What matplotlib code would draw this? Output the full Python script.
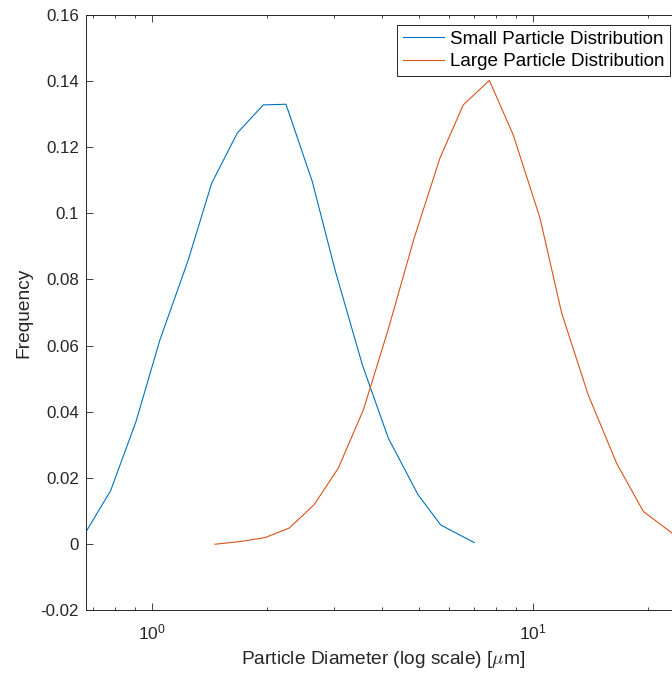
#!/usr/bin/python

import matplotlib
matplotlib.use('Agg')
import matplotlib.pyplot as plt
from matplotlib.ticker import FuncFormatter, LogLocator, FixedLocator

# particle diameters in micrometres and the frequency of each size class
small_diam = [0.671, 0.779, 0.908, 1.049, 1.245, 1.434, 1.674, 1.958, 2.246,
              2.633, 3.02, 3.561, 4.166, 4.99, 5.72, 7.0]
small_freq = [0.0036, 0.0161, 0.0370, 0.0617, 0.0859, 0.1091, 0.1243, 0.1328,
              0.1330, 0.1096, 0.0829, 0.0542, 0.0320, 0.0148, 0.0057, 0.0004]

large_diam = [1.463, 1.701, 1.979, 2.291, 2.66, 3.08, 3.583, 4.16, 4.87, 5.69,
              6.55, 7.67, 8.86, 10.41, 11.87, 13.94, 16.55, 19.44, 23.1]
large_freq = [-0.0001, 0.0007, 0.0019, 0.0048, 0.0118, 0.0229, 0.0405, 0.0647,
              0.0925, 0.1167, 0.1328, 0.1402, 0.1237, 0.0986, 0.0698, 0.0450,
              0.0243, 0.0098, 0.0033]

labels = ['Small Particle Distribution', 'Large Particle Distribution']
yticks = [-0.02, 0, 0.02, 0.04, 0.06, 0.08, 0.1, 0.12, 0.14, 0.16]

plt.rcParams['font.family'] = ['Liberation Sans', 'DejaVu Sans']
plt.rcParams['mathtext.fontset'] = 'cm'
plt.rcParams['font.size'] = 12
axcol = (0.15, 0.15, 0.15)

fig = plt.figure(figsize=(6.72, 6.73), dpi=100)
ax = fig.add_axes([86 / 672, 1 - 610 / 673, 594 / 672, 595 / 673])

ax.plot(small_diam, small_freq, color='#0072BD', lw=0.8, label=labels[0])
ax.plot(large_diam, large_freq, color='#D95319', lw=0.8, label=labels[1])

ax.set_xscale('log')
ax.set_xlim(0.6714, 24.25)
ax.set_ylim(-0.02, 0.16)
ax.yaxis.set_major_locator(FixedLocator(yticks))
ax.yaxis.set_major_formatter(FuncFormatter(lambda v, p: '%g' % round(v, 4)))
ax.xaxis.set_major_locator(LogLocator(base=10))
ax.xaxis.set_minor_locator(LogLocator(base=10, subs=range(2, 10)))

for s in ax.spines.values():
    s.set_color(axcol)
    s.set_linewidth(0.7)
ax.tick_params(which='both', direction='in', top=True, right=True,
               color=axcol, labelcolor=axcol, width=0.6)
ax.tick_params(which='major', length=4.8)
ax.tick_params(which='minor', length=2.4)
ax.tick_params(axis='x', pad=9, labelsize=12.5)
ax.tick_params(axis='y', pad=5, labelsize=12.2)

ax.set_xlabel(r'Particle Diameter (log scale) [$\mu$m]', color=axcol,
              fontsize=13.8, labelpad=5)
ax.set_ylabel('Frequency', color=axcol, fontsize=13.8, labelpad=6)

leg = ax.legend(loc='upper right', bbox_to_anchor=(670 / 672, 1 - 25 / 673),
                bbox_transform=fig.transFigure, fancybox=False, framealpha=1,
                edgecolor=axcol, borderaxespad=0, borderpad=0.3, fontsize=13.6,
                handlelength=2.2, handletextpad=0.3, labelspacing=0.28)
leg.get_frame().set_linewidth(0.7)

fig.savefig('out.png', dpi=100, facecolor='white')
